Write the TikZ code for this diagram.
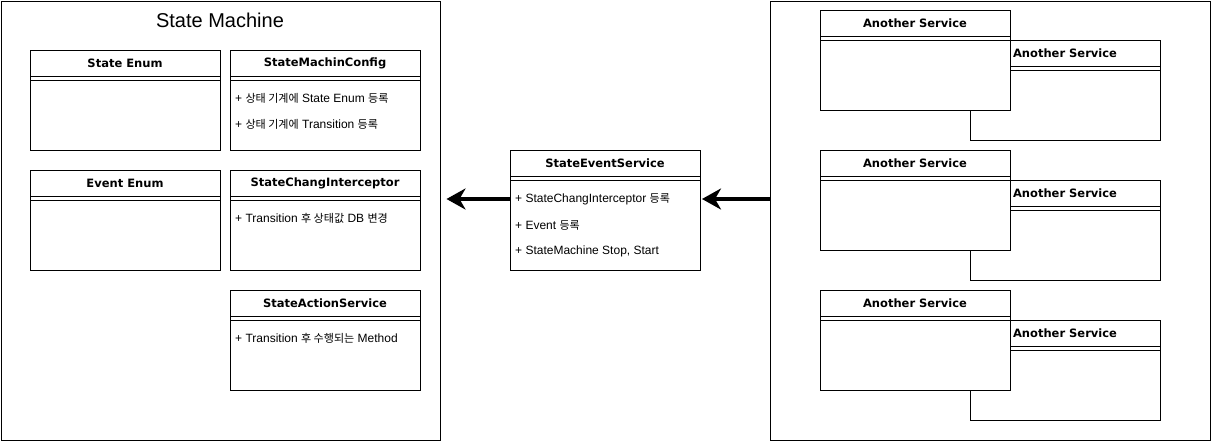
\documentclass[tikz,border=0pt]{standalone}
\usepackage{fontspec}
\setmainfont{Liberation Sans}
\newfontfamily\kr[Scale=0.92]{Noto Sans CJK KR}
\newfontfamily\verd{DejaVu Sans}
\usetikzlibrary{shapes,arrows.meta,positioning}
\tikzstyle{container} = [rectangle, draw, line width=1pt, inner sep=0pt]
\tikzstyle{classbox} = [rectangle, draw, fill=white, line width=1pt,
    anchor=north west, minimum width=190pt, minimum height=100pt, inner sep=0pt]
\tikzstyle{classtitle} = [font=\verd\bfseries\fontsize{11.5}{13}\selectfont, inner sep=0pt]
\tikzstyle{member} = [anchor=west, font=\fontsize{12}{14}\selectfont, inner sep=0pt]
\tikzstyle{line} = [draw, line width=4.5pt, -{Stealth[length=19pt, width=21pt, inset=6pt]}]
% class box: name, left, top, title, height
\newcommand{\umlclass}[5]{%
    \node [classbox, minimum height=#5pt] (#1) at (#2,#3) {};
    \node [classtitle] (#1-title) at (#2+95,#3+13.5) {#4};
    \draw [line width=1pt] (#2,#3+26) -- (#2+190,#3+26);
    \draw [line width=1pt] (#2,#3+30) -- (#2+190,#3+30);
}

\begin{document}
\begin{tikzpicture}[x=1pt, y=-1pt]
    \useasboundingbox (0,0) rectangle (1211,442);
    % Place containers
    \node [container, anchor=north west, minimum width=439pt, minimum height=439pt] (machine) at (0.5,0.5) {};
    \node [font=\fontsize{20}{24}\selectfont] (machine-title) at (220,20) {State Machine};
    \node [container, anchor=north west, minimum width=440pt, minimum height=439pt] (services) at (770,0.5) {};
    % Place state machine classes
    \umlclass{stateenum}{30}{50}{State Enum}{100}
    \umlclass{config}{230}{50}{StateMachinConfig}{100}
    \node [member] (config-m1) at (235,98) {+ {\kr 상태 기계에} State Enum {\kr 등록}};
    \node [member] (config-m2) at (235,124) {+ {\kr 상태 기계에} Transition {\kr 등록}};
    \umlclass{eventenum}{30}{170}{Event Enum}{100}
    \umlclass{interceptor}{230}{170}{StateChangInterceptor}{100}
    \node [member] (interceptor-m1) at (235,218) {+ Transition {\kr 후 상태값} DB {\kr 변경}};
    \umlclass{action}{230}{290}{StateActionService}{100}
    \node [member] (action-m1) at (235,338) {+ Transition {\kr 후 수행되는} Method};
    % Place event service
    \umlclass{evt}{510}{150}{StateEventService}{120}
    \node [member] (evt-m1) at (515,199) {+ StateChangInterceptor {\kr 등록}};
    \node [member] (evt-m2) at (515,225) {+ Event {\kr 등록}};
    \node [member] (evt-m3) at (515,251) {+ StateMachine Stop, Start};
    % Place another services
    \umlclass{other1b}{970}{40}{Another Service}{100}
    \umlclass{other1a}{820}{10}{Another Service}{100}
    \umlclass{other2b}{970}{180}{Another Service}{100}
    \umlclass{other2a}{820}{150}{Another Service}{100}
    \umlclass{other3b}{970}{320}{Another Service}{100}
    \umlclass{other3a}{820}{290}{Another Service}{100}
    % Draw edges
    \path [line, shorten >=6pt] (evt-m1 -| evt.west) -- (evt-m1 -| machine.east);
    \path [line, shorten >=1pt] (evt-m1 -| services.west) -- (evt-m1 -| evt.east);
\end{tikzpicture}
\end{document}
